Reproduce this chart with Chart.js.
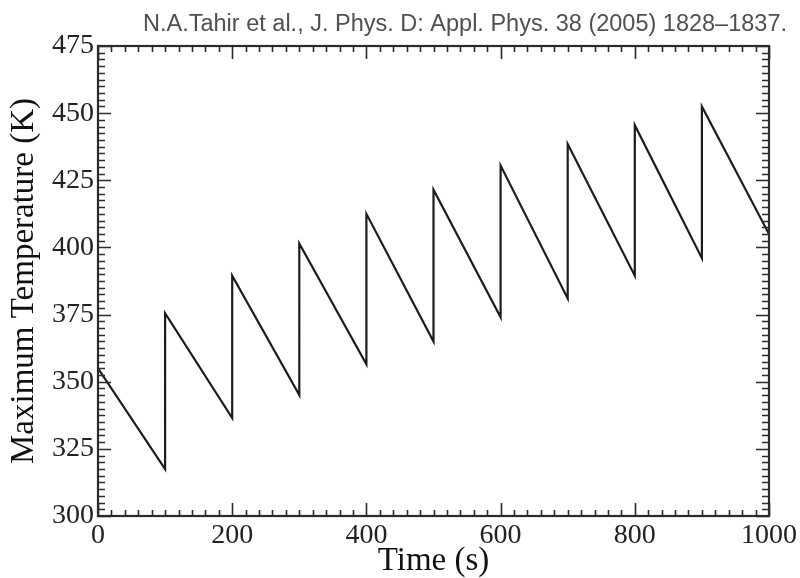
<!DOCTYPE html>
<html>
<head>
<meta charset="utf-8">
<script src="https://cdn.jsdelivr.net/npm/chart.js@4.4.1/dist/chart.umd.min.js"></script>
<style>
  html, body { margin: 0; padding: 0; background: #ffffff; }
  #wrap { width: 800px; height: 578px; }
</style>
</head>
<body>
<div id="wrap"><canvas id="c" width="800" height="578"></canvas></div>
<script>
// ---- data ----
const timeValues = [0, 100, 100, 200, 200, 300, 300, 400, 400, 500, 500, 600, 600, 700, 700, 800, 800, 900, 900, 1000];
const tempValues = [355, 317.5, 375.5, 336.5, 389.5, 345, 401.5, 356.5, 412.5, 365, 421.5, 374, 430.5, 381, 438.5, 389.5, 445.5, 396, 452.5, 405];
const xTickLabels = [0, 200, 400, 600, 800, 1000];
const yTickLabels = [300, 325, 350, 375, 400, 425, 450, 475];
const citation = 'N.A.Tahir et al., J. Phys. D: Appl. Phys. 38 (2005) 1828\u20131837.';
const xTitle = 'Time (s)';
const yTitle = 'Maximum Temperature (K)';

const points = timeValues.map((t, i) => ({ x: t, y: tempValues[i] }));

const serif = '"Liberation Serif", "DejaVu Serif", serif';
const sans = '"Liberation Sans", Arial, sans-serif';

const frameTicks = {
  id: 'frameTicks',
  afterDatasetsDraw(chart) {
    const { ctx, chartArea: a, scales } = chart;
    const xs = scales.x, ys = scales.y;
    ctx.save();
    ctx.strokeStyle = '#2a2a2a';
    ctx.lineWidth = 1.6;
    ctx.beginPath();
    // x ticks (minor every 20, major every 200)
    for (let v = 0; v <= 1000; v += 20) {
      const px = Math.round(xs.getPixelForValue(v)) + 0.5;
      const len = (v % 200 === 0) ? 13 : 6;
      ctx.moveTo(px, a.bottom); ctx.lineTo(px, a.bottom - len);
      ctx.moveTo(px, a.top); ctx.lineTo(px, a.top + len);
    }
    // y ticks (minor every 2.5, major every 25)
    for (let k = 0; k <= 70; k++) {
      const v = 300 + k * 2.5;
      const py = Math.round(ys.getPixelForValue(v)) + 0.5;
      const len = (k % 10 === 0) ? 13 : 7;
      ctx.moveTo(a.left, py); ctx.lineTo(a.left + len, py);
      ctx.moveTo(a.right, py); ctx.lineTo(a.right - len, py);
    }
    ctx.stroke();
    ctx.lineWidth = 2.2;
    ctx.strokeRect(a.left, a.top, a.right - a.left, a.bottom - a.top);
    ctx.restore();
  }
};

new Chart(document.getElementById('c'), {
  type: 'scatter',
  data: {
    datasets: [{
      data: points,
      showLine: true,
      borderColor: '#1c1c1c',
      borderWidth: 2.2,
      pointRadius: 0,
      tension: 0,
      fill: false
    }]
  },
  options: {
    responsive: false,
    animation: false,
    devicePixelRatio: 1,
    layout: { padding: { left: 0, right: 13, top: 0, bottom: 0 } },
    plugins: {
      legend: { display: false },
      tooltip: { enabled: false },
      title: {
        display: true,
        text: citation,
        align: 'end',
        color: '#505050',
        font: { family: sans, size: 23.5, weight: 'normal', lineHeight: 1.2 },
        padding: { top: 10, bottom: 7.8 }
      }
    },
    scales: {
      x: {
        type: 'linear',
        position: 'bottom',
        min: 0, max: 1000,
        afterBuildTicks: (s) => { s.ticks = xTickLabels.map(v => ({ value: v })); },
        afterFit: (s) => { s.height = 62; },
        grid: { display: false, drawTicks: false },
        border: { display: false },
        ticks: {
          color: '#222222',
          font: { family: serif, size: 28 },
          padding: 3,
          maxRotation: 0,
          autoSkip: false,
          callback: (v) => String(v)
        },
        title: {
          display: true,
          text: xTitle,
          color: '#111111',
          font: { family: serif, size: 33, lineHeight: 1.0 },
          padding: { top: 0, bottom: 0 }
        }
      },
      y: {
        type: 'linear',
        position: 'left',
        min: 300, max: 475,
        afterBuildTicks: (s) => { s.ticks = yTickLabels.map(v => ({ value: v })); },
        afterFit: (s) => { s.width = 98; },
        grid: { display: false, drawTicks: false },
        border: { display: false },
        ticks: {
          color: '#222222',
          font: { family: serif, size: 28 },
          padding: 4,
          autoSkip: false,
          callback: (v) => String(v)
        },
        title: {
          display: true,
          text: yTitle,
          color: '#111111',
          font: { family: serif, size: 33, lineHeight: 1.0 },
          padding: { top: 7.5, bottom: 0 }
        }
      },
      y2: {
        type: 'linear',
        position: 'right',
        min: 300, max: 475,
        afterFit: (s) => { s.width = 18; },
        grid: { display: false, drawTicks: false },
        border: { display: false },
        ticks: { display: false }
      }
    }
  },
  plugins: [frameTicks]
});
</script>
</body>
</html>
